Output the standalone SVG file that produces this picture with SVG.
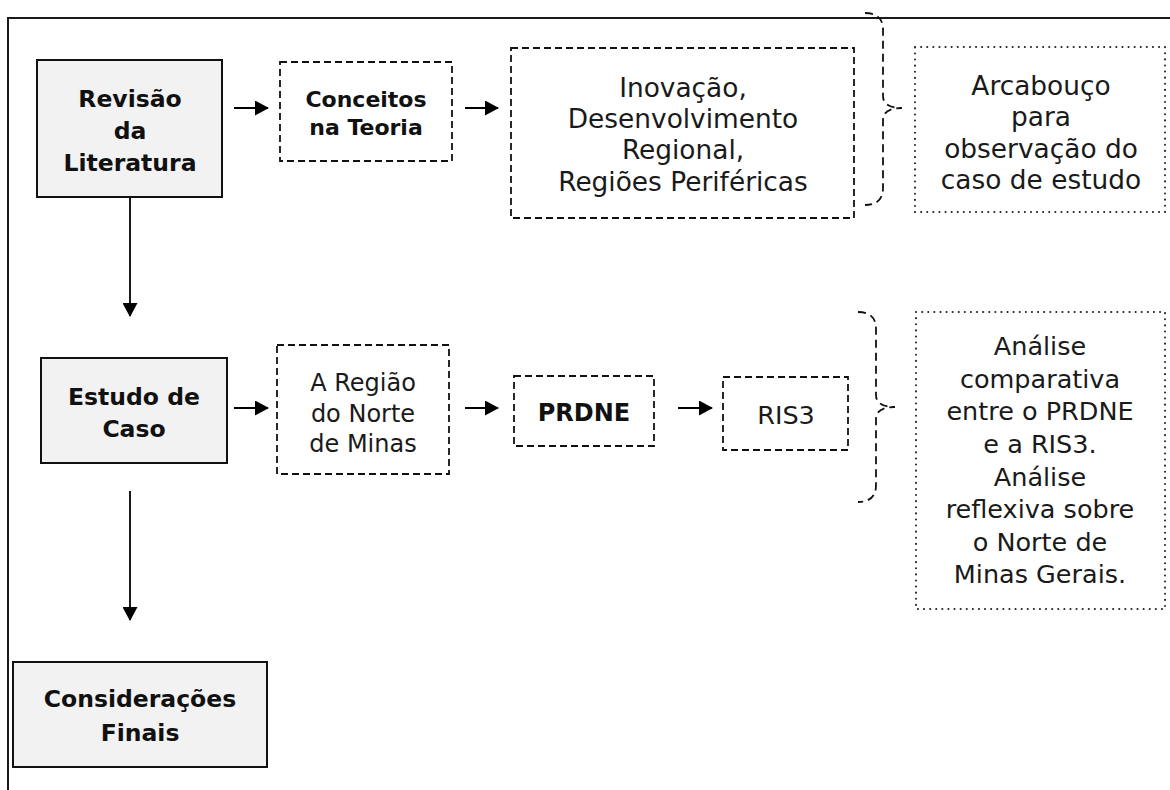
<svg xmlns="http://www.w3.org/2000/svg" width="1170" height="790" viewBox="0 0 1170 790">
  <defs>
    <style>
      .frame { fill: none; stroke: #1a1a1a; stroke-width: 2; }
      .solid { fill: #f2f2f2; stroke: #111; stroke-width: 2; }
      .dash { fill: none; stroke: #111; stroke-width: 1.8; stroke-dasharray: 7 4; }
      .dot { fill: none; stroke: #222; stroke-width: 2; stroke-dasharray: 0.1 6; stroke-linecap: round; }
      .brace { fill: none; stroke: #111; stroke-width: 1.8; stroke-dasharray: 8 5; }
      .link { fill: none; stroke: #000; stroke-width: 1.8; }
      .b { font-family: "DejaVu Sans", sans-serif; font-weight: bold; fill: #111; text-anchor: middle; }
      .r { font-family: "DejaVu Sans", sans-serif; fill: #1a1a1a; text-anchor: middle; }
    </style>
    <marker id="head" markerUnits="userSpaceOnUse" markerWidth="14" markerHeight="15" refX="13" refY="7.5" orient="auto">
      <path d="M0,0 L14,7.5 L0,15 Z" fill="#000"/>
    </marker>
  </defs>

  <!-- outer frame: top and left edges only -->
  <path class="frame" d="M8,790 L8,18 L1170,18"/>

  <!-- connectors -->
  <g id="connectors">
    <line class="link" x1="234" y1="108" x2="268" y2="108" marker-end="url(#head)"/>
    <line class="link" x1="465" y1="108" x2="498" y2="108" marker-end="url(#head)"/>
    <line class="link" x1="130" y1="188" x2="130" y2="316" marker-end="url(#head)"/>
    <line class="link" x1="234" y1="408" x2="268" y2="408" marker-end="url(#head)"/>
    <line class="link" x1="465" y1="408" x2="498" y2="408" marker-end="url(#head)"/>
    <line class="link" x1="678" y1="408" x2="712" y2="408" marker-end="url(#head)"/>
    <line class="link" x1="130" y1="491" x2="130" y2="620" marker-end="url(#head)"/>
    <!-- curly braces -->
    <path class="brace" d="M865,13 Q883,13 883,30 L883,96 Q883,108 902,108 Q883,108 883,120 L883,188 Q883,205 865,205"/>
    <path class="brace" d="M858,312 Q876,312 876,329 L876,395 Q876,407 895,407 Q876,407 876,419 L876,485 Q876,502 858,502"/>
  </g>

  <g id="revisao">
    <rect class="solid" x="37" y="60" width="185" height="137"/>
    <text class="b" font-size="23.5" x="130" y="107">Revisão</text>
    <text class="b" font-size="23.5" x="130" y="139">da</text>
    <text class="b" font-size="23.5" x="130" y="171">Literatura</text>
  </g>

  <g id="conceitos">
    <rect class="dash" x="280" y="62" width="172" height="99"/>
    <text class="b" font-size="22" x="366" y="107">Conceitos</text>
    <text class="b" font-size="22" x="366" y="135">na Teoria</text>
  </g>

  <g id="temas">
    <rect class="dash" x="511" y="48" width="343" height="170"/>
    <text class="r" font-size="26.4" x="683" y="97">Inovação,</text>
    <text class="r" font-size="26.4" x="683" y="128">Desenvolvimento</text>
    <text class="r" font-size="26.4" x="683" y="159">Regional,</text>
    <text class="r" font-size="26.4" x="683" y="191">Regiões Periféricas</text>
  </g>

  <g id="arcabouco">
    <rect class="dot" x="915" y="47" width="250" height="165"/>
    <text class="r" font-size="26.4" x="1041" y="95">Arcabouço</text>
    <text class="r" font-size="26.4" x="1041" y="126">para</text>
    <text class="r" font-size="26.4" x="1041" y="158">observação do</text>
    <text class="r" font-size="26.4" x="1041" y="189">caso de estudo</text>
  </g>

  <g id="estudo">
    <rect class="solid" x="41" y="358" width="186" height="105"/>
    <text class="b" font-size="23.5" x="134" y="405">Estudo de</text>
    <text class="b" font-size="23.5" x="134" y="437">Caso</text>
  </g>

  <g id="regiao">
    <rect class="dash" x="277" y="345" width="172" height="129"/>
    <text class="r" font-size="24" x="363" y="391">A Região</text>
    <text class="r" font-size="24" x="363" y="422">do Norte</text>
    <text class="r" font-size="24" x="363" y="452">de Minas</text>
  </g>

  <g id="prdne">
    <rect class="dash" x="514" y="376" width="140" height="70"/>
    <text class="b" font-size="24" x="584" y="421">PRDNE</text>
  </g>

  <g id="ris3">
    <rect class="dash" x="723" y="377" width="125" height="73"/>
    <text class="r" font-size="25.5" x="786" y="424">RIS3</text>
  </g>

  <g id="analise">
    <rect class="dot" x="916" y="312" width="249" height="297"/>
    <text class="r" font-size="25.5" x="1040" y="355">Análise</text>
    <text class="r" font-size="25.5" x="1040" y="388">comparativa</text>
    <text class="r" font-size="25.5" x="1040" y="420">entre o PRDNE</text>
    <text class="r" font-size="25.5" x="1040" y="453">e a RIS3.</text>
    <text class="r" font-size="25.5" x="1040" y="486">Análise</text>
    <text class="r" font-size="25.5" x="1040" y="518">reflexiva sobre</text>
    <text class="r" font-size="25.5" x="1040" y="551">o Norte de</text>
    <text class="r" font-size="25.5" x="1040" y="583">Minas Gerais.</text>
  </g>

  <g id="consideracoes">
    <rect class="solid" x="13" y="662" width="254" height="105"/>
    <text class="b" font-size="23.5" x="140" y="707">Considerações</text>
    <text class="b" font-size="23.5" x="140" y="741">Finais</text>
  </g>
</svg>
